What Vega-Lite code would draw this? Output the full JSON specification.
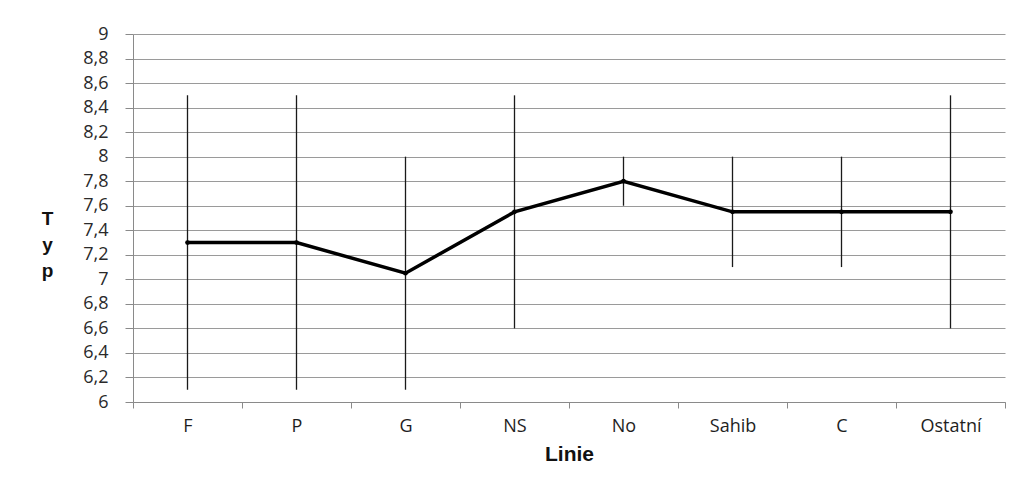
{
  "$schema": "https://vega.github.io/schema/vega-lite/v6.json",
  "autosize": {"type": "none"},
  "padding": {"left": 133, "top": 34, "right": 12, "bottom": 81},
  "width": 872,
  "height": 368,
  "background": "white",
  "config": {
    "view": {"stroke": null},
    "axis": {"labelFont": "Open Sans", "labelFontSize": 18, "labelColor": "#2a2a2a", "titleFont": "Liberation Sans", "titleFontWeight": "bold", "titleColor": "#111111", "domainColor": "#8a8a8a", "tickColor": "#8a8a8a", "gridColor": "#9a9a9a"}
  },
  "data": {
    "values": [
      {"Linie": "F", "Typ": 7.3, "lo": 6.1, "hi": 8.5},
      {"Linie": "P", "Typ": 7.3, "lo": 6.1, "hi": 8.5},
      {"Linie": "G", "Typ": 7.05, "lo": 6.1, "hi": 8.0},
      {"Linie": "NS", "Typ": 7.55, "lo": 6.6, "hi": 8.5},
      {"Linie": "No", "Typ": 7.8, "lo": 7.6, "hi": 8.0},
      {"Linie": "Sahib", "Typ": 7.55, "lo": 7.1, "hi": 8.0},
      {"Linie": "C", "Typ": 7.55, "lo": 7.1, "hi": 8.0},
      {"Linie": "Ostatní", "Typ": 7.55, "lo": 6.6, "hi": 8.5}
    ]
  },
  "encoding": {
    "x": {
      "field": "Linie", "type": "nominal", "sort": null,
      "scale": {"type": "band", "paddingInner": 0, "paddingOuter": 0},
      "axis": {"title": "Linie", "titleFontSize": 21, "titlePadding": 8, "labelAngle": 0, "labelPadding": 9, "tickSize": 6, "tickBand": "extent", "grid": false, "labelColor": "#1e1e1e"}
    }
  },
  "layer": [
    {
      "mark": {"type": "rule", "color": "#1a1a1a", "strokeWidth": 1.3},
      "encoding": {
        "y": {
          "field": "lo", "type": "quantitative",
          "scale": {"domain": [6, 9], "nice": false, "zero": false},
          "axis": {
            "title": ["T", "y", "p"], "titleAngle": 0, "titleFontSize": 19, "titleLineHeight": 26,
            "titleX": -86, "titleY": 184, "titleAlign": "center", "titleBaseline": "middle",
            "values": [6, 6.2, 6.4, 6.6, 6.8, 7, 7.2, 7.4, 7.6, 7.8, 8, 8.2, 8.4, 8.6, 8.8, 9],
            "tickCount": 30,
            "labelExpr": "replace(format(datum.value, '~g'), '.', ',')",
            "labelOverlap": false,
            "tickSize": 8, "labelPadding": 17, "grid": true
          }
        },
        "y2": {"field": "hi"}
      }
    },
    {
      "mark": {"type": "line", "color": "black", "strokeWidth": 3.5, "point": {"filled": true, "color": "black", "size": 22}},
      "encoding": {
        "y": {"field": "Typ", "type": "quantitative"}
      }
    }
  ]
}
